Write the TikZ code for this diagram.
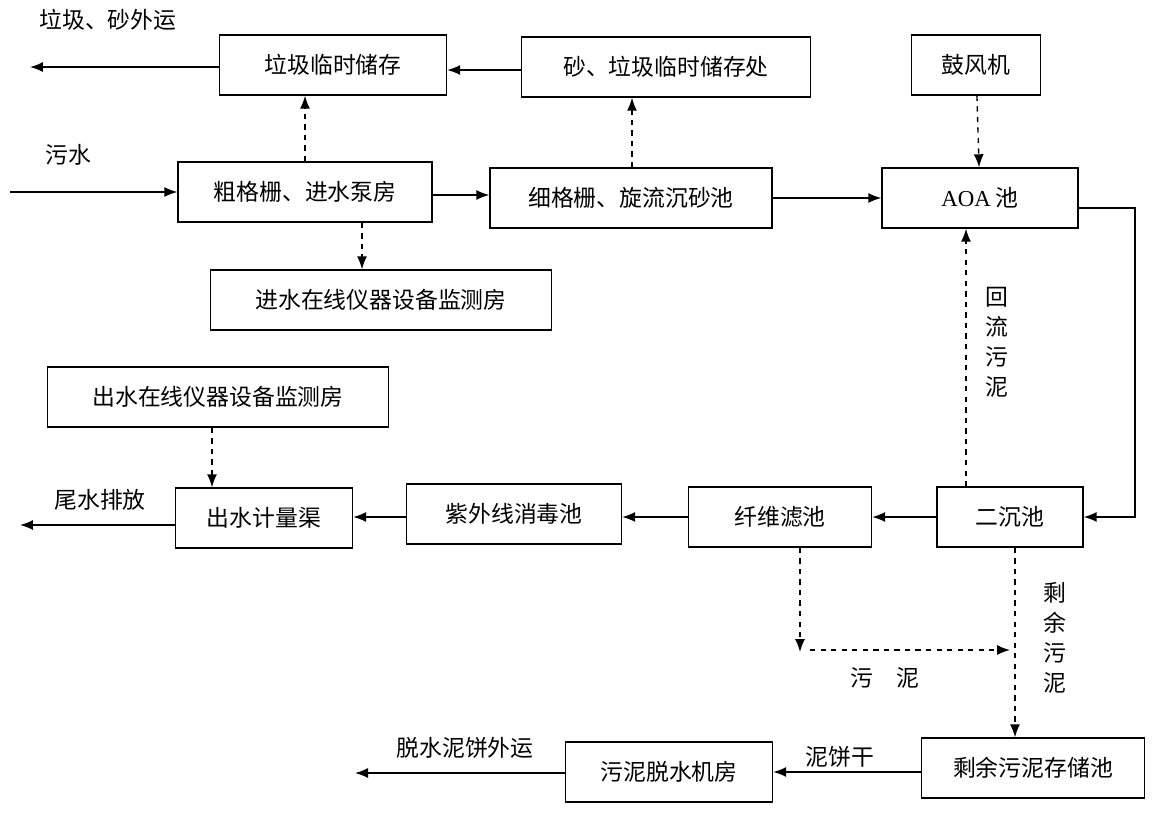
\documentclass[tikz,border=0pt]{standalone}
\usepackage{fontspec}
\setmainfont{Liberation Serif}
\newfontfamily\cjk{Noto Sans CJK SC}
\usetikzlibrary{positioning,arrows.meta}
\tikzset {
    style A/.style={
        draw=black,
        thick,
        rectangle, % box of a unit
        minimum height=1.2cm,
        align=center,
        font=\cjk\fontsize{13}{15}\selectfont,
    },
    style L/.style={
        font=\cjk\fontsize{13}{15}\selectfont,
        align=center,
    },
    flow/.style={draw=black, thick, -{Latex[length=2.6mm,width=2mm]}},
    back/.style={flow, dashed},
}
\begin{document}
\begin{tikzpicture}[x=0.02cm, y=-0.02cm]
    \useasboundingbox (0,0) rectangle (1166,812);

    \node[style A, minimum width=4.54cm] (store) at (333,65) {垃圾临时储存};
    \node[style A, minimum width=5.78cm] (sand) at (666,67) {砂、垃圾临时储存处};
    \node[style A, minimum width=2.58cm] (fan) at (976,65) {鼓风机};
    \node[style A, minimum width=5.08cm] (coarse) at (305,192) {粗格栅、进水泵房};
    \node[style A, minimum width=5.64cm] (fine) at (631,198) {细格栅、旋流沉砂池};
    \node[style A, minimum width=3.92cm] (aoa) at (980,198) {{\rmfamily AOA} 池};
    \node[style A, minimum width=6.82cm] (inmon) at (381,300) {进水在线仪器设备监测房};
    \node[style A, minimum width=6.82cm] (outmon) at (218,397) {出水在线仪器设备监测房};
    \node[style A, minimum width=3.54cm] (meter) at (264,518) {出水计量渠};
    \node[style A, minimum width=4.3cm] (uv) at (514,514) {紫外线消毒池};
    \node[style A, minimum width=3.66cm] (filter) at (780,517) {纤维滤池};
    \node[style A, minimum width=2.92cm] (clar) at (1010,517) {二沉池};
    \node[style A, minimum width=4.46cm] (sludge) at (1033,768) {剩余污泥存储池};
    \node[style A, minimum width=4.14cm] (dewater) at (669,772) {污泥脱水机房};

    % free ends
    \coordinate (out1) at (30,67);
    \coordinate (in1) at (10,192);
    \coordinate (out2) at (20,525);
    \coordinate (out3) at (355,773);
    \coordinate (turn) at (1135,208);
    \coordinate (s1) at (800,652);
    \coordinate (s2) at (810,650);
    \coordinate (s3) at (1010,650);
    \coordinate (x1) at (362,0);
    \coordinate (x2) at (966,0);
    \coordinate (x3) at (212,0);
    \coordinate (x4) at (1015,0);
    \coordinate (x5) at (305,0);
    \coordinate (x6) at (632,0);
    \coordinate (y1) at (0,70);
    \coordinate (y2) at (0,195);
    \coordinate (y3) at (0,517);
    \coordinate (y4) at (0,772);

    \draw[flow] (store.west |- out1) -- (out1);
    \draw[flow] (sand.west |- y1) -- (store.east |- y1);
    \draw[flow] (in1) -- (coarse);
    \draw[flow] (coarse.east |- y2) -- (fine.west |- y2);
    \draw[flow] (fine) -- (aoa);
    \draw[back] (coarse.north -| x5) -- (store.south -| x5);
    \draw[back] (coarse.south -| x1) -- (inmon.north -| x1);
    \draw[back] (fine.north -| x6) -- (sand.south -| x6);
    \draw[back] (fan) -- (aoa);
    \draw[flow] (aoa.east |- turn) -- (turn) |- (clar.east);
    \draw[back] (clar.north -| x2) -- (aoa.south -| x2);
    \draw[flow] (clar) -- (filter);
    \draw[flow] (filter.west |- y3) -- (uv.east |- y3);
    \draw[flow] (uv.west |- y3) -- (meter.east |- y3);
    \draw[flow] (meter.west |- out2) -- (out2);
    \draw[back] (outmon.south -| x3) -- (meter.north -| x3);
    \draw[back] (filter.south -| s1) -- (s1);
    \draw[back] (s2) -- (s3);
    \draw[back] (clar.south -| x4) -- (sludge.north -| x4);
    \draw[flow] (sludge.west |- y4) -- (dewater.east |- y4);
    \draw[flow] (dewater.west |- out3) -- (out3);

    \node[style L] (t1) at (108,20) {垃圾、砂外运};
    \node[style L] (t2) at (68,155) {污水};
    \node[style L] (t3) at (997,342) {回\\[2pt]流\\[2pt]污\\[2pt]泥};
    \node[style L] (t4) at (100,500) {尾水排放};
    \node[style L] (t5) at (885,678) {污\quad 泥};
    \node[style L] (t6) at (1055,638) {剩\\[2pt]余\\[2pt]污\\[2pt]泥};
    \node[style L] (t7) at (840,757) {泥饼干};
    \node[style L] (t8) at (465,748) {脱水泥饼外运};
\end{tikzpicture}
\end{document}
